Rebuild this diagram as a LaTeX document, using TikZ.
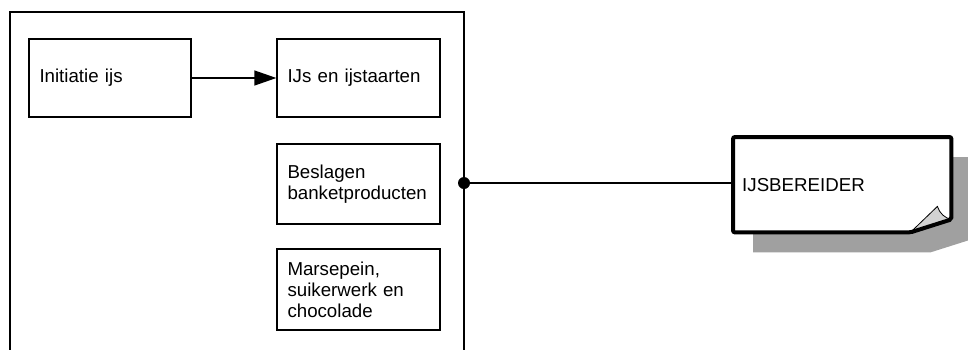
\documentclass[tikz,border=0pt]{standalone}
\usepackage{fontspec}
\setmainfont{Liberation Sans}
\usetikzlibrary{arrows.meta,calc,backgrounds}
\definecolor{shadowgray}{RGB}{160,160,160}
\definecolor{foldgray}{RGB}{210,210,210}
\begin{document}
\begin{tikzpicture}[x=1pt,y=-1pt,
  every node/.style={font=\fontsize{18.7}{21}\selectfont},
  procbox/.style={draw,line width=1.3pt,rectangle,inner xsep=10pt,inner ysep=0pt,
    text width=142pt,align=left,minimum width=163pt},
  frameline/.style={line width=1.3pt},
  conn/.style={line width=1.3pt}]
\useasboundingbox (0,0) rectangle (968,349);
% frame
\draw[frameline] (10,352) -- (10,12) -- (464,12) -- (464,352);
\coordinate (dotpt) at (464,183);
% boxes
\node[procbox,minimum height=78pt,minimum width=162pt,text width=141pt] (init) at (110,78) {Initiatie ijs};
\node[procbox,minimum height=78pt] (ijs2) at (358.5,78) {IJs en ijstaarten};
\node[procbox,minimum height=80pt] (besl) at (358.5,184) {Beslagen\\banketproducten};
\node[procbox,minimum height=81pt] (mars) at (358.5,289.5) {Marsepein,\\suikerwerk en\\chocolade};
\draw[conn,-{Triangle[length=22pt,width=15pt]}] (init.east) -- (ijs2.west);
% right node
\node[rectangle,minimum width=218pt,minimum height=95pt,inner xsep=9pt,text width=200pt,align=left,anchor=north west] (ijs) at (733,137) {IJSBEREIDER};
\begin{scope}[on background layer]
\fill[shadowgray] ($(ijs.north west)+(20,20)$) -- ($(ijs.north east)+(20,20)$) -- ($(ijs.south east)+(20,7)$) -- ($(ijs.south east)+(-21,20)$) -- ($(ijs.south west)+(20,20)$) -- cycle;
\fill[white] (ijs.north west) -- (ijs.north east) -- ($(ijs.south east)+(0,-13)$) -- ($(ijs.south east)+(-41,0)$) -- (ijs.south west) -- cycle;
\end{scope}
\filldraw[fill=foldgray,draw=black,line width=0.8pt] ($(ijs.south east)+(-41,0)$) -- ($(ijs.south east)+(-14,-26)$) .. controls ($(ijs.south east)+(-12,-19)$) and ($(ijs.south east)+(-6,-14)$) .. ($(ijs.south east)+(0,-13)$) -- cycle;
\draw[line width=4pt,rounded corners=2pt] (ijs.north west) -- (ijs.north east) -- ($(ijs.south east)+(0,-13)$) -- ($(ijs.south east)+(-41,0)$) -- (ijs.south west) -- cycle;
% connector
\draw[conn] (dotpt) -- (dotpt -| ijs.west);
\fill (dotpt) circle (6pt);
\end{tikzpicture}
\end{document}
